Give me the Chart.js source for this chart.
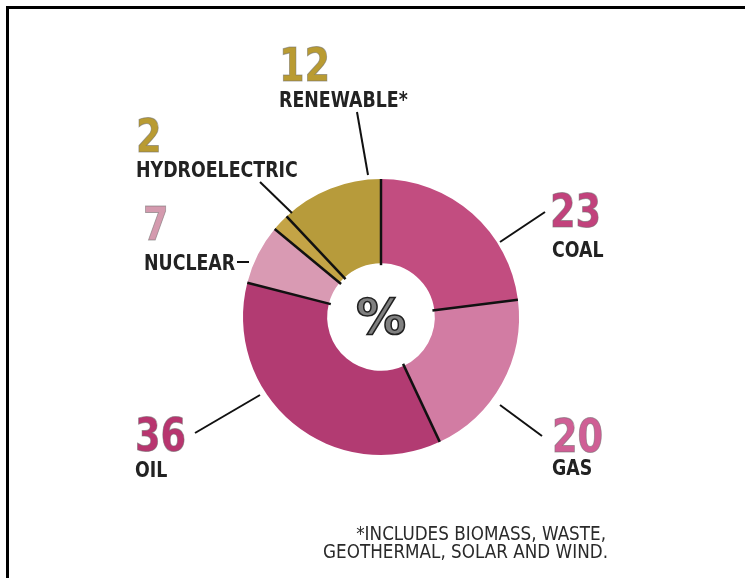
<!DOCTYPE html>
<html>
<head>
<meta charset="utf-8">
<script src="https://cdn.jsdelivr.net/npm/chart.js@4"></script>
<style>
  html, body { margin: 0; padding: 0; background: #fff; }
  #wrap { position: relative; width: 745px; height: 578px; }
  #frame { position: absolute; left: 6px; top: 6px; right: 0; bottom: 0;
           border-top: 3px solid #000; border-left: 3px solid #000; pointer-events: none; }
  canvas { position: absolute; left: 0; top: 0; }
</style>
</head>
<body>
<div id="wrap">
  <canvas id="c" width="745" height="578"></canvas>
  <div id="frame"></div>
</div>
<script>
// ---- data ----
const categories = ['COAL', 'GAS', 'OIL', 'NUCLEAR', 'HYDROELECTRIC', 'RENEWABLE*'];
const shares = [23, 20, 36, 7, 2, 12];
const footnote = ['*INCLUDES BIOMASS, WASTE,', 'GEOTHERMAL, SOLAR AND WIND.'];
const centerSymbol = '%';

// ---- styles ----
const sliceColors = ['#c24d80', '#d27ca3', '#b23b72', '#d99ab3', '#c4a446', '#b79b3b'];
const numberColors = ['#c2427c', '#cf5f95', '#b8356f', '#d49aae', '#b99b32', '#b99b32'];

// label layout: offsets (px) from the doughnut centre
const labelLayout = [
  { num: [169, -90],  name: [171, -60],  lead: [[119, -75], [164, -105]] },   // coal
  { num: [171, 135],  name: [171, 158],  lead: [[119, 88], [161, 119]] },     // gas
  { num: [-246, 134], name: [-246, 160], lead: [[-121, 78], [-186, 116]] },   // oil
  { num: [-238, -77], name: [-237, -47], lead: [[-144, -55], [-132, -55]] },  // nuclear
  { num: [-245, -165], name: [-245, -140], lead: [[-89, -104], [-121, -135]] }, // hydro
  { num: [-102, -236], name: [-102, -210], lead: [[-13, -142], [-24, -205]] }   // renewable
];

function squeezedText(ctx, txt, x, y, sx, stroke) {
  ctx.save();
  ctx.translate(x, y);
  ctx.scale(sx, 1);
  ctx.fillText(txt, 0, 0);
  if (stroke) ctx.strokeText(txt, 0, 0);
  ctx.restore();
}

const dividerPlugin = {
  id: 'dividers',
  afterDatasetsDraw(chart) {
    const ctx = chart.ctx;
    const arcs = chart.getDatasetMeta(0).data;
    ctx.save();
    ctx.strokeStyle = '#111';
    ctx.lineWidth = 2.5;
    arcs.forEach(a => {
      const ang = a.startAngle;
      ctx.beginPath();
      ctx.moveTo(a.x + Math.cos(ang) * (a.innerRadius - 2), a.y + Math.sin(ang) * (a.innerRadius - 2));
      ctx.lineTo(a.x + Math.cos(ang) * a.outerRadius, a.y + Math.sin(ang) * a.outerRadius);
      ctx.stroke();
    });
    ctx.restore();
  }
};

const labelPlugin = {
  id: 'labels',
  afterDraw(chart) {
    const ctx = chart.ctx;
    const arcs = chart.getDatasetMeta(0).data;
    const cx = arcs[0].x, cy = arcs[0].y;
    ctx.save();
    // centre symbol
    ctx.textAlign = 'center';
    ctx.textBaseline = 'middle';
    ctx.font = 'bold 50px "DejaVu Sans", sans-serif';
    ctx.fillStyle = '#808080';
    ctx.strokeStyle = '#222';
    ctx.lineWidth = 1.5;
    ctx.fillText(centerSymbol, cx, cy + 4);
    ctx.strokeText(centerSymbol, cx, cy + 4);

    ctx.textAlign = 'left';
    ctx.textBaseline = 'alphabetic';
    labelLayout.forEach((L, i) => {
      // leader line
      ctx.strokeStyle = '#111';
      ctx.lineWidth = 2;
      ctx.beginPath();
      ctx.moveTo(cx + L.lead[0][0], cy + L.lead[0][1]);
      ctx.lineTo(cx + L.lead[1][0], cy + L.lead[1][1]);
      ctx.stroke();
      // value
      ctx.font = 'bold 46px "DejaVu Sans", sans-serif';
      ctx.fillStyle = numberColors[i];
      ctx.strokeStyle = 'rgba(110,110,110,0.55)';
      ctx.lineWidth = 1;
      squeezedText(ctx, String(shares[i]), cx + L.num[0], cy + L.num[1], 0.8, true);
      // name
      ctx.font = 'bold 22px "DejaVu Sans", sans-serif';
      ctx.fillStyle = '#222';
      squeezedText(ctx, categories[i], cx + L.name[0], cy + L.name[1], 0.79, false);
    });

    // footnote
    ctx.textAlign = 'right';
    ctx.font = '20px "DejaVu Sans", sans-serif';
    ctx.fillStyle = '#2a2a2a';
    squeezedText(ctx, footnote[0], 606, 540, 0.84, false);
    squeezedText(ctx, footnote[1], 608, 558, 0.84, false);
    ctx.restore();
  }
};

new Chart(document.getElementById('c'), {
  type: 'doughnut',
  data: {
    labels: categories,
    datasets: [{
      data: shares,
      backgroundColor: sliceColors,
      borderWidth: 0
    }]
  },
  options: {
    responsive: false,
    animation: false,
    cutout: '39%',
    rotation: 0,
    layout: { padding: { left: 243, right: 226, top: 178, bottom: 122 } },
    plugins: { legend: { display: false }, tooltip: { enabled: false } }
  },
  plugins: [dividerPlugin, labelPlugin]
});
</script>
</body>
</html>
